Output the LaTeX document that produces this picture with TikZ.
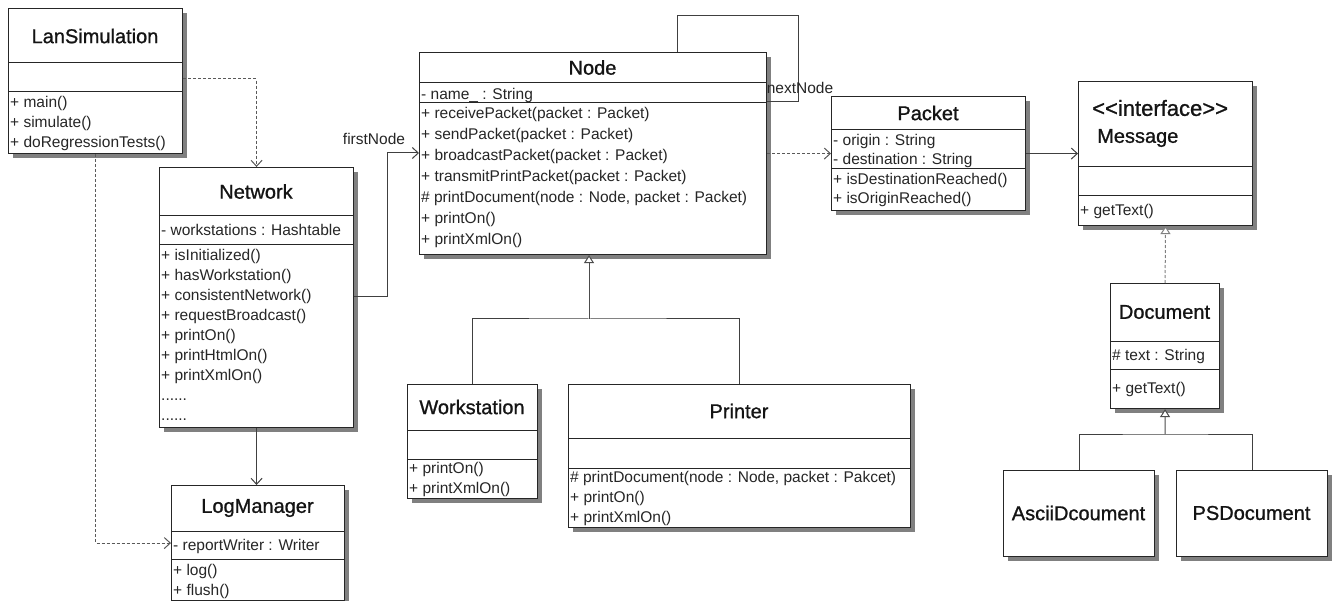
\documentclass[tikz,border=0pt]{standalone}
\usepackage{fontspec}
\setmainfont{Liberation Sans}
\newfontfamily\ttlfamily[FakeBold=1]{Liberation Sans}
\usetikzlibrary{arrows.meta,calc}
\newcommand\memA{\fontsize{15.5}{20}\selectfont}
\newcommand\memB{\fontsize{15.5}{21}\selectfont}
\newcommand\memC{\fontsize{15.5}{19}\selectfont}
\newcommand\ttlsize{\ttlfamily\fontsize{20}{24}\selectfont}
\tikzset{
  cls/.style={draw=black!85, line width=1.1pt, fill=white, inner sep=0pt, anchor=north west,
    preaction={draw=none, fill=black!50, transform canvas={xshift=4pt, yshift=-4pt}}},
  sepline/.style={draw=black!85, line width=1pt},
  ttl/.style={font=\ttlsize, text=black!92, inner sep=0pt},
  mem/.style={align=left, anchor=north west, inner xsep=0pt, inner ysep=0pt, text=black!85},
  lbl/.style={font=\memA, text=black!85, inner sep=0pt},
  assoc/.style={draw=black!75, line width=1pt, -{Straight Barb[length=6pt,width=11pt]}},
  dep/.style={draw=black!65, line width=1pt, dash pattern=on 3pt off 2pt, -{Straight Barb[length=6pt,width=11pt]}},
  plainline/.style={draw=black!75, line width=1pt},
  gentri/.style={draw=black!70, line width=1pt, -{Triangle[open,length=8pt,width=10pt,fill=white]}},
  realtri/.style={draw=black!50, line width=1pt, dash pattern=on 3pt off 2pt, -{Triangle[open,length=8pt,width=10pt,fill=white]}},
}
\begin{document}
\begin{tikzpicture}[x=1pt,y=1pt]
\fill[white] (0,0) rectangle (1332,-601);
\useasboundingbox (0,0) rectangle (1332,-601);

% ---------- LanSimulation ----------
\node[cls, minimum width=174pt, minimum height=145pt] (ls) at (8,-8) {};
\draw[sepline] (ls.west |- 0,-63) -- (ls.east |- 0,-63);
\draw[sepline] (ls.west |- 0,-92) -- (ls.east |- 0,-92);
\node[ttl] (lsT) at (95,-36) {LanSimulation};
\node[mem, font=\memA] (lsM) at (10,-93) {\strut+ main()\\\strut+ simulate()\\\strut+ doRegressionTests()};

% ---------- Network ----------
\node[cls, minimum width=194pt, minimum height=260pt] (nw) at (159,-167) {};
\draw[sepline] (nw.west |- 0,-216) -- (nw.east |- 0,-216);
\draw[sepline] (nw.west |- 0,-245) -- (nw.east |- 0,-245);
\node[ttl] (nwT) at (256,-191.5) {Network};
\node[mem, font=\memA] (nwA) at (161,-221) {\strut- workstations : Hashtable};
\node[mem, font=\memA] (nwM) at (161,-246) {\strut+ isInitialized()\\\strut+ hasWorkstation()\\\strut+ consistentNetwork()\\\strut+ requestBroadcast()\\\strut+ printOn()\\\strut+ printHtmlOn()\\\strut+ printXmlOn()\\\strut......\\\strut......};

% ---------- LogManager ----------
\node[cls, minimum width=173pt, minimum height=115pt] (lm) at (171,-485) {};
\draw[sepline] (lm.west |- 0,-531) -- (lm.east |- 0,-531);
\draw[sepline] (lm.west |- 0,-559) -- (lm.east |- 0,-559);
\node[ttl] (lmT) at (257.5,-508) {LogManager};
\node[mem, font=\memA] (lmA) at (173,-536) {\strut- reportWriter : Writer};
\node[mem, font=\memA] (lmM) at (173,-561) {\strut+ log()\\\strut+ flush()};

% ---------- Node ----------
\node[cls, minimum width=347pt, minimum height=202pt] (nd) at (419,-52) {};
\draw[sepline] (nd.west |- 0,-83) -- (nd.east |- 0,-83);
\draw[sepline] (nd.west |- 0,-103) -- (nd.east |- 0,-103);
\node[ttl] (ndT) at (592.5,-67.5) {Node};
\node[mem, font=\memB] (ndA) at (421,-84.3) {\strut- name\_ : String};
\node[mem, font=\memB] (ndM) at (421,-103.5) {\strut+ receivePacket(packet : Packet)\\\strut+ sendPacket(packet : Packet)\\\strut+ broadcastPacket(packet : Packet)\\\strut+ transmitPrintPacket(packet : Packet)\\\strut\# printDocument(node : Node, packet : Packet)\\\strut+ printOn()\\\strut+ printXmlOn()};

% ---------- Packet ----------
\node[cls, minimum width=194pt, minimum height=114pt] (pk) at (831,-96) {};
\draw[sepline] (pk.west |- 0,-130) -- (pk.east |- 0,-130);
\draw[sepline] (pk.west |- 0,-169) -- (pk.east |- 0,-169);
\node[ttl] (pkT) at (928,-113) {Packet};
\node[mem, font=\memC] (pkA) at (833,-131.7) {\strut- origin : String\\\strut- destination : String};
\node[mem, font=\memC] (pkM) at (833,-171.5) {\strut+ isDestinationReached()\\\strut+ isOriginReached()};

% ---------- Message ----------
\node[cls, minimum width=174pt, minimum height=144pt] (ms) at (1078,-81) {};
\draw[sepline] (ms.west |- 0,-167) -- (ms.east |- 0,-167);
\draw[sepline] (ms.west |- 0,-196) -- (ms.east |- 0,-196);
\node[ttl, anchor=west, font=\ttlfamily\fontsize{22}{26}\selectfont] (msS) at (1092,-108) {\textless\textless interface\textgreater\textgreater};
\node[ttl, anchor=west] (msT) at (1097,-138) {Message};
\node[mem, font=\memA] (msM) at (1080,-201) {\strut+ getText()};

% ---------- Document ----------
\node[cls, minimum width=109pt, minimum height=125pt] (dc) at (1110,-283) {};
\draw[sepline] (dc.west |- 0,-341) -- (dc.east |- 0,-341);
\draw[sepline] (dc.west |- 0,-369) -- (dc.east |- 0,-369);
\node[ttl] (dcT) at (1164.5,-312) {Document};
\node[mem, font=\memA] (dcA) at (1112,-346) {\strut\# text : String};
\node[mem, font=\memA] (dcM) at (1112,-379) {\strut+ getText()};

% ---------- Workstation ----------
\node[cls, minimum width=130pt, minimum height=114pt] (ws) at (407,-384) {};
\draw[sepline] (ws.west |- 0,-430) -- (ws.east |- 0,-430);
\draw[sepline] (ws.west |- 0,-459) -- (ws.east |- 0,-459);
\node[ttl] (wsT) at (472,-407) {Workstation};
\node[mem, font=\memA] (wsM) at (409,-459.5) {\strut+ printOn()\\\strut+ printXmlOn()};

% ---------- Printer ----------
\node[cls, minimum width=342pt, minimum height=143pt] (pr) at (568,-384) {};
\draw[sepline] (pr.west |- 0,-438) -- (pr.east |- 0,-438);
\draw[sepline] (pr.west |- 0,-468) -- (pr.east |- 0,-468);
\node[ttl] (prT) at (739,-411) {Printer};
\node[mem, font=\memA] (prM) at (570,-468.5) {\strut\# printDocument(node : Node, packet : Pakcet)\\\strut+ printOn()\\\strut+ printXmlOn()};

% ---------- AsciiDcoument / PSDocument ----------
\node[cls, minimum width=151pt, minimum height=86pt] (ac) at (1003,-470) {};
\node[ttl] (acT) at (1078.5,-513) {AsciiDcoument};
\node[cls, minimum width=151pt, minimum height=86pt] (ps) at (1176,-470) {};
\node[ttl] (psT) at (1251.5,-513) {PSDocument};

% ---------- connectors ----------
% LanSimulation -> Network (dependency)
\draw[dep] ($(ls.north east)+(0,-71)$) -| (nw.north);
% LanSimulation -> LogManager (dependency)
\draw[dep] (ls.south) |- (lm.west);
% Network -> LogManager
\draw[assoc] (nw.south) -- (nw.south |- lm.north);
% Network -> Node (firstNode)
\coordinate (fn) at (387,-153);
\draw[assoc] ($(nw.north east)+(0,-130)$) -| (fn) -- (fn -| nd.west);
\node[lbl] (fnL) at (374,-139) {firstNode};
% Node self association (nextNode)
\coordinate (lp) at (798,-16);
\draw[plainline] ($(nd.north west)+(258,0)$) |- (lp) |- ($(nd.north east)+(0,-50)$);
\node[lbl] (nnL) at (800,-88) {nextNode};
% Node -> Packet (dependency)
\draw[dep] (nd.east |- pk.west) -- (pk.west);
% Packet -> Message
\draw[assoc] (pk.east) -- (pk.east -| ms.west);
% Document realizes Message
\draw[realtri] (dc.north) -- (ms.south);
% Document generalization
\coordinate (dj) at (1165,-434);
\draw[gentri] (dj) -- (dc.south);
\draw[plainline] (ac.north) |- (dj) -| (ps.north);
% Node generalization
\coordinate (nj) at (589,-319);
\draw[gentri] (nj) -- (nj |- nd.south);
\draw[plainline] (ws.north) |- (nj) -| (pr.north);
\end{tikzpicture}
\end{document}
